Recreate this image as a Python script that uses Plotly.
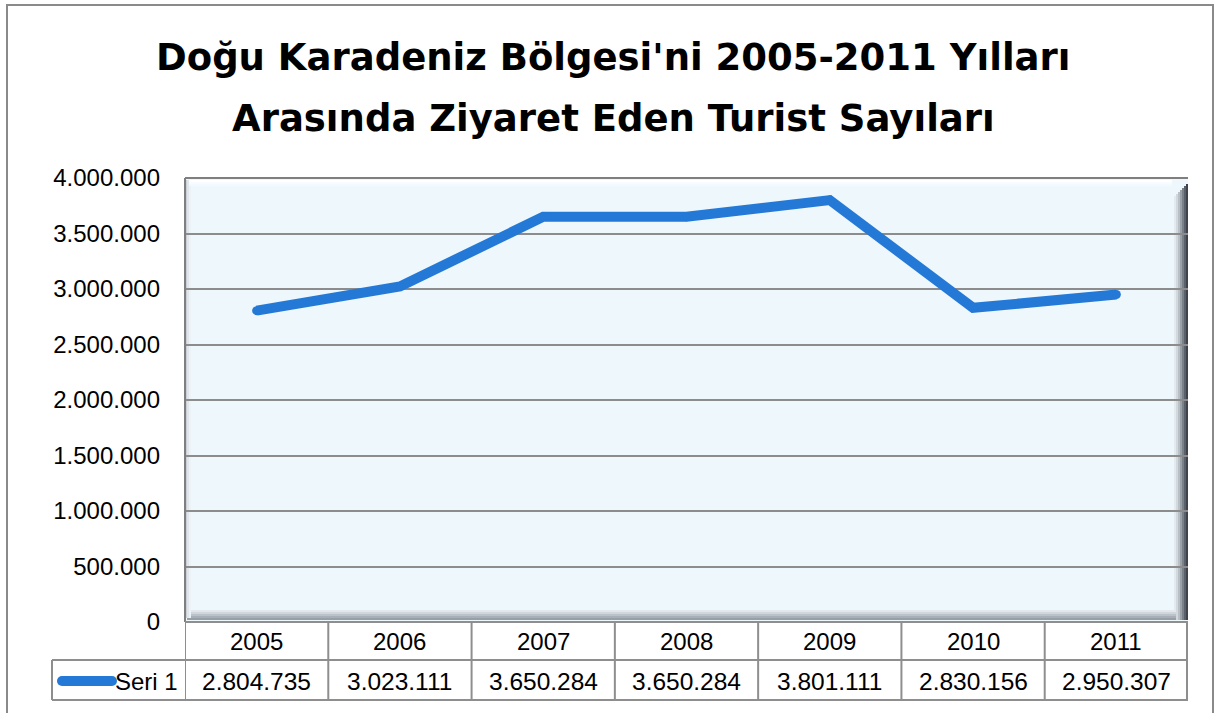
import plotly.graph_objects as go

years = ["2005", "2006", "2007", "2008", "2009", "2010", "2011"]
visitors = [2804735, 3023111, 3650284, 3650284, 3801111, 2830156, 2950307]
series_name = "Seri 1"
title_lines = ["Doğu Karadeniz Bölgesi'ni 2005-2011 Yılları",
               "Arasında Ziyaret Eden Turist Sayıları"]
y_ticks = [0, 500000, 1000000, 1500000, 2000000, 2500000, 3000000, 3500000, 4000000]

W_FIG, H_FIG = 1217, 713
L, R, T, B = 185, 1188, 178, 622
PW, PH = R - L, B - T


def px(X):
    return (X - L) / PW


def py(Y):
    return (B - Y) / PH


BLUE = "#2479D6"
GRID = "#8c8c8c"
LINE = "#8e8e8e"
TXT_FONT = "Liberation Sans, Arial, sans-serif"

xs = list(range(len(years)))

fig = go.Figure()
fig.add_trace(go.Scatter(
    x=xs, y=visitors, mode="lines+markers", name=series_name,
    line=dict(color=BLUE, width=10),
    marker=dict(color=BLUE, size=9, line=dict(width=0)),
    showlegend=False, hoverinfo="y",
))

shapes = []
# outer chart border
shapes.append(dict(type="rect", xref="paper", yref="paper",
                   x0=px(7), x1=px(1213), y0=py(720), y1=py(5),
                   line=dict(color="#8a8a8a", width=2), layer="below"))

# plot area 3D shading (right and bottom edges)
right_cols = ["#e4ebef", "#d2d9de", "#b9c0c6", "#9aa1a8", "#7b8189", "#5b616a", "#3f444c"]
for i, c in enumerate(right_cols):
    shapes.append(dict(type="rect", xref="paper", yref="paper",
                       x0=px(1174 + 2 * i), x1=px(1176 + 2 * i), y0=py(B - 2), y1=py(T + 4 + 2 * (len(right_cols) - i)),
                       line=dict(width=0), fillcolor=c, layer="below"))
bottom_cols = ["#e2e8ee", "#d0d6dc", "#bcc2c9", "#a9afb6", "#999fa6"]
for i, c in enumerate(bottom_cols):
    shapes.append(dict(type="rect", xref="paper", yref="paper",
                       x0=px(L + 2), x1=px(1176), y0=py(610 + 2 * i + 2), y1=py(610 + 2 * i),
                       line=dict(width=0), fillcolor=c, layer="below"))
left_cols = ["#c9d0d6", "#dfe5ea", "#edf2f6"]
for i, c in enumerate(left_cols):
    shapes.append(dict(type="rect", xref="paper", yref="paper",
                       x0=px(L + 2 * i), x1=px(L + 2 * i + 2), y0=py(B - 4), y1=py(T + 2),
                       line=dict(width=0), fillcolor=c, layer="below"))
top_cols = ["#ffffff", "#f9fcfe", "#f3f9fd"]
for i, c in enumerate(top_cols):
    shapes.append(dict(type="rect", xref="paper", yref="paper",
                       x0=px(L + 4), x1=px(1172), y0=py(T + 2 * i + 4), y1=py(T + 2 * i + 2),
                       line=dict(width=0), fillcolor=c, layer="below"))

# plot frame top / left
shapes.append(dict(type="line", xref="paper", yref="paper", x0=px(L), x1=px(R), y0=1, y1=1,
                   line=dict(color="#7f7f7f", width=2)))
shapes.append(dict(type="line", xref="paper", yref="paper", x0=0, x1=0, y0=0, y1=1,
                   line=dict(color="#7f7f7f", width=2)))

# data table lines
for k in range(len(years) + 1):
    shapes.append(dict(type="line", xref="x", yref="paper",
                       x0=k - 0.5, x1=k - 0.5, y0=py(622), y1=py(700),
                       line=dict(color=LINE, width=2)))
shapes.append(dict(type="line", xref="paper", yref="paper", x0=px(R - 1), x1=px(R - 1),
                   y0=py(622), y1=py(700), line=dict(color=LINE, width=2)))
for Y in (622, 660, 700):
    x0 = px(52) if Y != 622 else 0
    shapes.append(dict(type="line", xref="paper", yref="paper", x0=x0, x1=px(R),
                       y0=py(Y), y1=py(Y), line=dict(color=LINE, width=2)))
shapes.append(dict(type="line", xref="paper", yref="paper", x0=px(52), x1=px(52),
                   y0=py(660), y1=py(700), line=dict(color=LINE, width=2)))

# legend key in table
shapes.append(dict(type="line", xref="paper", yref="paper", x0=px(62), x1=px(112),
                   y0=py(681), y1=py(681), line=dict(color=BLUE, width=10)))
for cx in (62, 112):
    shapes.append(dict(type="circle", xref="paper", yref="paper",
                       x0=px(cx - 5), x1=px(cx + 5), y0=py(686), y1=py(676),
                       fillcolor=BLUE, line=dict(width=0)))

annotations = []
for i, line in enumerate(title_lines):
    annotations.append(dict(text="<b>" + line + "</b>", xref="paper", yref="paper",
                            x=px(613), y=py([57, 118][i]), xanchor="center", yanchor="middle",
                            showarrow=False,
                            font=dict(family="Comic Sans MS, DejaVu Sans, sans-serif", size=37, color="#000")))
for i, (yr, v) in enumerate(zip(years, visitors)):
    annotations.append(dict(text=yr, xref="x", yref="paper", x=i, y=py(641),
                            xanchor="center", yanchor="middle", showarrow=False,
                            font=dict(family=TXT_FONT, size=24, color="#000")))
    annotations.append(dict(text=f"{v:,}".replace(",", "."), xref="x", yref="paper", x=i, y=py(681),
                            xanchor="center", yanchor="middle", showarrow=False,
                            font=dict(family=TXT_FONT, size=24.5, color="#000")))
annotations.append(dict(text=series_name, xref="paper", yref="paper", x=px(180), y=py(681),
                        xanchor="right", yanchor="middle", showarrow=False,
                        font=dict(family=TXT_FONT, size=24, color="#000")))

fig.update_layout(
    width=W_FIG, height=H_FIG,
    margin=dict(l=L, r=W_FIG - R, t=T, b=H_FIG - B),
    paper_bgcolor="white", plot_bgcolor="#EEF7FC",
    separators=",.",
    shapes=shapes, annotations=annotations,
    xaxis=dict(range=[-0.5, len(years) - 0.5], showgrid=False, showticklabels=False,
               zeroline=False, showline=False, fixedrange=True),
    yaxis=dict(range=[0, 4000000], tickvals=y_ticks, tickformat=",d",
               showgrid=True, gridcolor=GRID, gridwidth=1.5, zeroline=False, showline=False,
               ticks="", ticklabelstandoff=24,
               tickfont=dict(family=TXT_FONT, size=24, color="#000"), fixedrange=True),
)

fig.write_html("out.html", config={"displayModeBar": False},
               post_script="document.body.style.margin='0';document.body.style.overflow='hidden';")
